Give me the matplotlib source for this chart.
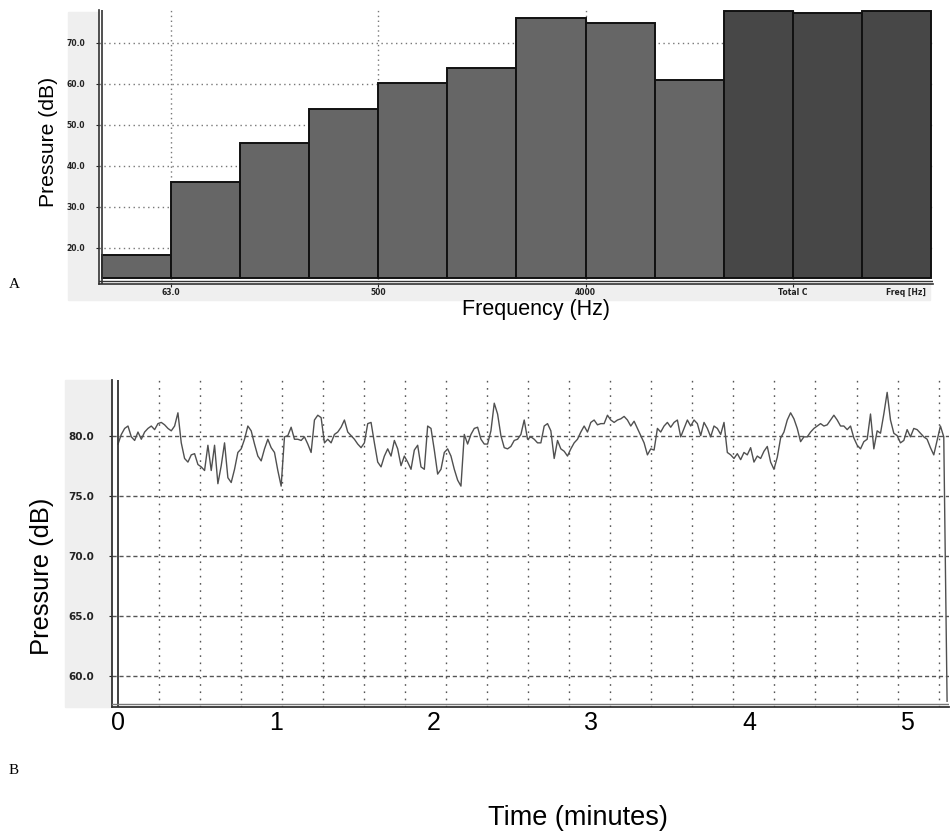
import numpy as np
import matplotlib
matplotlib.use("Agg")
import matplotlib.pyplot as plt
from matplotlib.patches import Rectangle

# ── Panel A: octave band spectrum (dB) ───────────────────────────────────────
BAND_LEVELS  = [18.3, 36.2, 45.5, 53.9, 60.2, 64.0, 76.0, 75.0, 61.0]
TOTAL_LEVELS = [77.9, 77.4, 77.9]
FREQ_TICK_EDGES  = [1, 4, 7, 10]
FREQ_TICK_LABELS = ["63.0", "500", "4000", "Total C"]
A_YTICKS = [20, 30, 40, 50, 60, 70]
BAR_BASE = 12.7

# ── Panel B: sound pressure level history (dB), one sample every ~1.27 s ─────
SAMPLE_STEP_MIN = 0.0211
LEVELS_DB = [
    79.3, 80.1, 80.6, 80.8, 79.9, 79.6, 80.3, 79.7, 80.3, 80.6,
    80.8, 80.5, 81.0, 81.1, 80.9, 80.6, 80.4, 80.8, 81.9, 79.4,
    78.1, 77.8, 78.4, 78.5, 77.6, 77.4, 77.1, 79.2, 77.1, 79.2,
    76.0, 77.5, 79.4, 76.5, 76.1, 77.2, 78.6, 78.9, 79.7, 80.8,
    80.4, 79.3, 78.3, 77.9, 78.9, 79.7, 79.0, 78.6, 77.1, 75.8,
    79.9, 80.0, 80.7, 79.7, 79.7, 79.6, 79.9, 79.3, 78.6, 81.3,
    81.7, 81.5, 79.4, 79.7, 79.4, 80.1, 80.3, 80.7, 81.3, 80.3,
    80.0, 79.7, 79.3, 79.0, 79.4, 81.0, 81.1, 79.4, 77.8, 77.4,
    78.3, 78.9, 78.3, 79.6, 78.9, 77.5, 78.3, 77.8, 77.2, 78.8,
    79.2, 77.4, 77.2, 80.8, 80.6, 78.8, 76.8, 77.2, 78.6, 78.9,
    78.3, 77.2, 76.3, 75.8, 80.1, 79.3, 80.1, 80.6, 80.7, 79.7,
    79.3, 79.3, 80.4, 82.7, 81.8, 80.0, 79.0, 78.9, 79.1, 79.6,
    79.7, 80.1, 81.3, 79.7, 79.9, 79.7, 79.4, 79.4, 80.8, 81.0,
    80.4, 78.1, 79.6, 78.9, 78.7, 78.3, 78.9, 79.4, 79.7, 80.3,
    80.8, 80.3, 81.1, 81.3, 80.9, 81.0, 81.0, 81.7, 81.3, 81.1,
    81.3, 81.4, 81.6, 81.3, 80.8, 81.2, 80.6, 80.0, 79.4, 78.4,
    78.9,
    78.8, 80.6, 80.3, 80.8, 81.1, 80.7, 81.1, 81.3, 79.9, 80.6,
    81.3, 80.8, 81.3, 81.0, 80.0, 81.1, 80.6, 79.9, 80.8, 80.6,
    80.1, 81.1, 78.6, 78.4, 78.1, 78.5, 78.0, 78.6, 78.4, 79.0,
    77.8, 78.3, 78.1, 78.7, 79.1, 77.8, 77.2, 78.2, 79.8, 80.3,
    81.3, 81.9, 81.4, 80.6, 79.5, 79.9, 79.9, 80.3, 80.6, 80.8,
    81.0, 80.8, 80.9, 81.3, 81.7, 81.3, 80.8, 80.8, 80.5, 80.8,
    79.8, 79.2, 78.9, 79.5, 79.7, 81.8, 78.9, 80.4, 80.2, 81.8,
    83.6, 81.3, 80.2, 80.0, 79.4, 79.6, 80.5, 79.9, 80.6, 80.5,
    80.2, 79.9, 79.7, 79.0, 78.4, 79.6, 80.8, 79.9,
    57.9,
]
B_YTICKS = [60, 65, 70, 75, 80]
TIME_TICKS = [0, 1, 2, 3, 4, 5]
GRID_STEP_MIN = 0.26

# ── Styling ───────────────────────────────────────────────────────────────────
W, H = 950, 833
SANS   = ["Liberation Sans", "DejaVu Sans"]
SERIF  = ["Liberation Serif", "DejaVu Serif"]
AXIS_COL = "#333333"
PANEL_BG = "#efefef"


def fx(px):
    return px / W


def fy(py):
    return 1 - py / H


fig = plt.figure(figsize=(W / 100, H / 100), dpi=100)

# gray software-panel backgrounds
fig.add_artist(Rectangle((fx(68), fy(300)), fx(930) - fx(68), fy(12) - fy(300),
                         transform=fig.transFigure, color=PANEL_BG, zorder=-5))
fig.add_artist(Rectangle((fx(65), fy(707)), fx(112) - fx(65), fy(380) - fy(707),
                         transform=fig.transFigure, color=PANEL_BG, zorder=-5))

# ── Panel A ───────────────────────────────────────────────────────────────────
axA = fig.add_axes([fx(99), fy(284), fx(933) - fx(99), fy(10) - fy(284)])
levels = np.array(BAND_LEVELS + TOTAL_LEVELS)
colors = ["#666666"] * len(BAND_LEVELS) + ["#474747"] * len(TOTAL_LEVELS)
xpos = np.arange(len(levels)) + 0.5
axA.bar(xpos, levels - BAR_BASE, bottom=BAR_BASE, width=1.0, color=colors,
        edgecolor="#111111", linewidth=1.4, zorder=3)

for y in A_YTICKS:
    axA.axhline(y, color="#777777", ls=(0, (1, 2.5)), lw=1, zorder=1)
for e in FREQ_TICK_EDGES:
    axA.axvline(e, color="#777777", ls=(0, (1, 2.5)), lw=1, zorder=1)

axA.set_xlim(-0.043, 12.03)
axA.set_ylim(11.2, 78.05)
axA.axvline(0, color=AXIS_COL, lw=1.2, zorder=4)
axA.axhline(11.95, color=AXIS_COL, lw=1.0, zorder=4)
for side in ("top", "right"):
    axA.spines[side].set_visible(False)
for side in ("left", "bottom"):
    axA.spines[side].set_color(AXIS_COL)
    axA.spines[side].set_linewidth(1.2)

axA.set_yticks(A_YTICKS)
axA.set_yticklabels([f"{v:.1f}" for v in A_YTICKS])
axA.set_xticks(FREQ_TICK_EDGES)
axA.set_xticklabels(FREQ_TICK_LABELS)
axA.tick_params(axis="y", length=2, pad=8, labelsize=5.5, colors="#222222")
axA.tick_params(axis="x", length=2, pad=1.0, labelsize=5.5, colors="#222222")
for lab in axA.get_xticklabels() + axA.get_yticklabels():
    lab.set_fontweight("bold")
axA.text(11.93, -0.03, "Freq [Hz]", transform=axA.get_xaxis_transform(),
         ha="right", va="center", fontsize=5.5, fontweight="bold", color="#222222")

# ── Panel B ───────────────────────────────────────────────────────────────────
axB = fig.add_axes([fx(112), fy(707), fx(949) - fx(112), fy(380) - fy(707)])
t = np.arange(len(LEVELS_DB)) * SAMPLE_STEP_MIN
axB.plot(t, LEVELS_DB, color="#505050", lw=1.0, zorder=3)

for y in B_YTICKS:
    axB.axhline(y, color="#555555", ls=(0, (3, 2)), lw=1, zorder=1)
for k in range(1, 21):
    axB.axvline(k * GRID_STEP_MIN, color="#555555", ls=(0, (1.2, 4)), lw=1, zorder=1)

axB.set_xlim(-0.038, 5.266)
axB.set_ylim(57.42, 84.63)
axB.axvline(0, color=AXIS_COL, lw=1.3, zorder=4)
axB.axhline(57.67, color="#777777", lw=1.0, zorder=4)
for side in ("top", "right"):
    axB.spines[side].set_visible(False)
for side in ("left", "bottom"):
    axB.spines[side].set_color(AXIS_COL)
    axB.spines[side].set_linewidth(1.3)

axB.set_yticks(B_YTICKS)
axB.set_yticklabels([f"{v:.1f}" for v in B_YTICKS])
axB.tick_params(axis="y", length=2, pad=11, labelsize=7.5, colors="#222222")
for lab in axB.get_yticklabels():
    lab.set_fontweight("bold")
axB.set_xticks(TIME_TICKS)
axB.set_xticklabels([str(v) for v in TIME_TICKS], family=SANS, fontsize=18)
axB.tick_params(axis="x", length=0, pad=3)

# ── Labels ────────────────────────────────────────────────────────────────────
fig.text(fx(49), fy(142), "Pressure (dB)", rotation=90, ha="center", va="center",
         family=SANS, fontsize=15.2)
fig.text(fx(536), fy(309), "Frequency (Hz)", ha="center", va="center",
         family=SANS, fontsize=15.5)
fig.text(fx(42), fy(576), "Pressure (dB)", rotation=90, ha="center", va="center",
         family=SANS, fontsize=18.4)
fig.text(fx(578), fy(818), "Time (minutes)", ha="center", va="center",
         family=SANS, fontsize=19.5)
fig.text(fx(14), fy(285), "A", ha="center", va="center", family=SERIF, fontsize=11)
fig.text(fx(14), fy(770), "B", ha="center", va="center", family=SERIF, fontsize=11)

fig.savefig("out.png", dpi=100)
